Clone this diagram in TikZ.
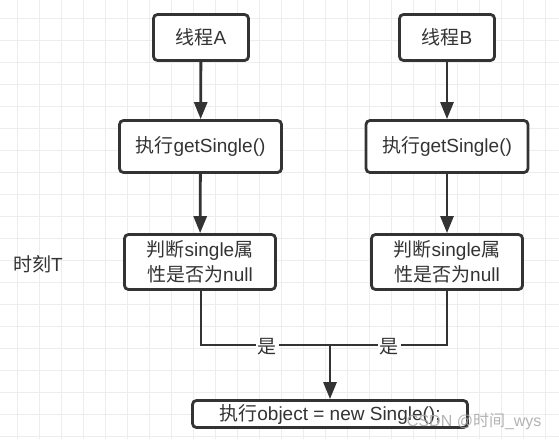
\documentclass[tikz,border=0pt]{standalone}
\usepackage{fontspec}
\setmainfont{Liberation Sans}
\newfontfamily\cjkfont{Noto Sans CJK SC}
\newcommand{\zh}[1]{{\cjkfont #1}}
\usetikzlibrary{arrows.meta}
\definecolor{ink}{HTML}{333333}
\definecolor{gridc}{HTML}{EDEDED}
\begin{document}
\begin{tikzpicture}[x=1pt,y=-1pt,
  box/.style={draw=ink,line width=2.8pt,rounded corners=4pt,fill=white,text=ink,inner sep=0pt,align=center,font=\fontsize{19}{25}\selectfont},
  arr/.style={draw=ink,line width=2.8pt,-{Triangle[length=17pt,width=13pt]}},
  lnk/.style={draw=ink,line width=2.8pt},
  lab/.style={fill=white,text=ink,inner sep=2pt,font=\fontsize{19}{19}\selectfont}]
\fill[white] (0,0) rectangle (559,439);
\useasboundingbox (0,0) rectangle (559,439);
\foreach \i in {0,...,24} \draw[gridc,line width=1pt] (17+22*\i,0) -- (17+22*\i,439);
\foreach \i in {0,...,19} \draw[gridc,line width=1pt] (0,18+22*\i) -- (559,18+22*\i);

\node[box,minimum width=95pt,minimum height=46pt] (a1) at (201,37.5) {\zh{线程}A};
\node[box,minimum width=95pt,minimum height=46pt] (b1) at (447,37.5) {\zh{线程}B};
\node[box,minimum width=162pt,minimum height=52pt] (a2) at (200.5,146.5) {\zh{执行}getSingle()};
\node[box,minimum width=162pt,minimum height=52pt] (b2) at (447,146.5) {\zh{执行}getSingle()};
\node[box,minimum width=151pt,minimum height=55pt] (a3) at (200,262) {\zh{判断}single\zh{属}\\\zh{性是否为}null};
\node[box,minimum width=151pt,minimum height=55pt] (b3) at (447,262) {\zh{判断}single\zh{属}\\\zh{性是否为}null};
\node[box,minimum width=275pt,minimum height=27pt] (c) at (330,414) {\zh{执行}object = new Single();};

\node[text=ink,font=\fontsize{19}{19}\selectfont] (t) at (38,264) {\zh{时刻}T};

\draw[arr] (a1) -- (a2);
\draw[arr] (b1) -- (b2);
\draw[arr] (a2) -- (a3);
\draw[arr] (b2) -- (b3);

\coordinate (la) at (201,345);
\coordinate (rb) at (447,345);
\coordinate (j) at (330,345);
\draw[lnk] (a3.south -| la) -- (la) -- (rb) -- (b3.south);
\node[lab] (y1) at (267,347) {\zh{是}};
\node[lab] (y2) at (389,347) {\zh{是}};
\draw[arr] (j) -- (c);

\node[text=gray!70,opacity=0.85,font=\fontsize{16}{16}\selectfont,anchor=east] (wm) at (545,421) {CSDN @\zh{时间}\_wys};
\end{tikzpicture}
\end{document}
